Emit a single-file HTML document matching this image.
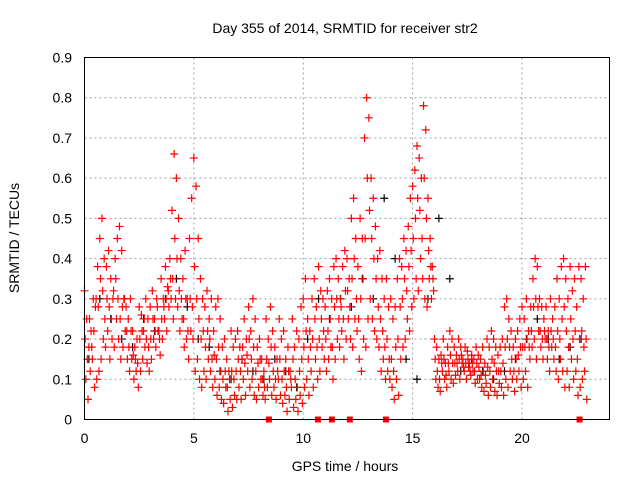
<!DOCTYPE html>
<html><head><meta charset="utf-8"><style>
body{margin:0;background:#fff;}
svg{display:block;font-family:"Liberation Sans",sans-serif;}
</style></head><body>
<svg id="chart" width="640" height="480" viewBox="0 0 640 480">
<rect x="0" y="0" width="640" height="480" fill="#fff"/>
<text x="345" y="33" text-anchor="middle" font-size="14" fill="#000">Day 355 of 2014, SRMTID for receiver str2</text>
<text x="345" y="471" text-anchor="middle" font-size="14" fill="#000">GPS time / hours</text>
<text transform="translate(19,238) rotate(-90)" text-anchor="middle" font-size="14" fill="#000">SRMTID / TECUs</text>
<g id="grid"></g>
<g id="ticks"></g>
<g id="black"></g>
<g id="red"></g>
<rect x="84.5" y="57.5" width="525" height="362" fill="none" stroke="#000" stroke-width="1"/>
</svg>
<script>
const xTicks=[0,5,10,15,20];
const yTicks=[0,0.1,0.2,0.3,0.4,0.5,0.6,0.7,0.8,0.9];
const t0=0, dt=0.1;
const redHigh=[.32,.25,.18,.22,.30,.28,.38,.45,.50,.40,.38,.42,.35,.30,.40,.45,.48,.42,.30,.28,.25,.30,.22,.18,.20,.28,.26,.22,.30,.25,.28,.32,.25,.30,.22,.35,.30,.38,.33,.40,.52,.66,.60,.50,.40,.35,.42,.30,.45,.55,.65,.58,.45,.35,.30,.28,.32,.25,.30,.22,.28,.30,.25,.18,.20,.15,.12,.22,.18,.20,.22,.18,.15,.25,.20,.28,.22,.30,.25,.18,.20,.15,.12,.25,.20,.28,.22,.18,.15,.25,.20,.22,.15,.18,.12,.25,.18,.22,.20,.28,.30,.35,.25,.22,.30,.35,.28,.38,.32,.30,.28,.32,.35,.30,.38,.40,.35,.30,.38,.42,.40,.35,.50,.55,.45,.38,.50,.45,.70,.80,.75,.60,.55,.48,.40,.42,.35,.30,.35,.28,.30,.25,.28,.35,.40,.38,.45,.42,.48,.55,.58,.62,.68,.65,.60,.78,.72,.55,.45,.38,.20,.18,.15,.16,.20,.14,.18,.22,.20,.18,.16,.20,.18,.15,.18,.17,.14,.16,.15,.18,.16,.15,.18,.14,.20,.18,.22,.20,.18,.16,.18,.20,.28,.30,.25,.22,.18,.20,.22,.25,.28,.25,.30,.22,.28,.35,.40,.38,.30,.28,.25,.28,.22,.30,.25,.28,.35,.30,.38,.40,.35,.30,.38,.32,.35,.28,.38,.35,.30,.38];
const redLow=[.10,.05,.12,.15,.08,.10,.12,.15,.20,.18,.22,.15,.20,.18,.25,.20,.15,.18,.22,.15,.12,.15,.10,.12,.08,.12,.15,.18,.14,.12,.15,.20,.18,.22,.16,.20,.25,.22,.28,.30,.25,.30,.28,.22,.25,.18,.20,.15,.22,.20,.12,.15,.10,.08,.12,.10,.15,.12,.08,.10,.06,.08,.05,.04,.08,.02,.05,.03,.06,.05,.08,.05,.10,.06,.12,.08,.10,.06,.05,.08,.10,.06,.05,.08,.10,.06,.08,.05,.10,.06,.04,.06,.02,.05,.08,.03,.05,.02,.06,.04,.08,.10,.06,.12,.08,.15,.10,.12,.18,.15,.12,.15,.18,.10,.15,.20,.18,.22,.15,.20,.25,.20,.18,.25,.22,.15,.12,.20,.18,.25,.30,.25,.22,.20,.18,.12,.15,.10,.12,.10,.08,.05,.10,.06,.15,.18,.20,.25,.22,.28,.30,.35,.32,.40,.35,.30,.28,.35,.30,.32,.10,.08,.07,.12,.10,.08,.12,.10,.09,.11,.12,.10,.14,.12,.10,.13,.11,.12,.09,.10,.10,.08,.07,.09,.06,.08,.10,.07,.06,.09,.08,.06,.10,.08,.12,.10,.07,.10,.12,.08,.10,.12,.08,.15,.18,.20,.15,.22,.18,.15,.20,.15,.12,.18,.15,.12,.10,.15,.12,.08,.12,.08,.15,.10,.12,.06,.08,.10,.12,.05];
const redMid=[.20,.15,.25,.18,.22,.30,.28,.35,.32,.25,.30,.28,.25,.32,.35,.30,.25,.28,.30,.22,.18,.22,.16,.15,.14,.20,.22,.25,.20,.18,.20,.25,.22,.28,.20,.25,.28,.30,.32,.35,.35,.45,.40,.32,.30,.25,.30,.22,.30,.28,.38,.30,.25,.20,.22,.18,.22,.20,.15,.16,.15,.18,.12,.10,.12,.08,.10,.12,.10,.12,.15,.12,.18,.14,.16,.20,.15,.18,.12,.14,.15,.10,.08,.15,.14,.18,.12,.10,.12,.15,.10,.12,.08,.12,.10,.15,.10,.08,.12,.15,.18,.22,.15,.18,.20,.25,.18,.20,.25,.22,.20,.22,.25,.18,.28,.30,.25,.28,.25,.32,.32,.28,.35,.40,.30,.25,.30,.35,.45,.60,.52,.45,.40,.35,.28,.25,.22,.18,.20,.15,.15,.12,.18,.20,.28,.30,.35,.32,.38,.42,.45,.50,.55,.52,.45,.60,.50,.42,.38,.35,.15,.12,.10,.14,.15,.11,.14,.16,.14,.14,.14,.15,.16,.13,.14,.15,.12,.14,.12,.14,.13,.11,.12,.11,.13,.12,.15,.14,.12,.12,.12,.14,.18,.20,.18,.15,.12,.15,.16,.18,.18,.18,.20,.18,.22,.28,.30,.28,.22,.20,.22,.20,.18,.22,.20,.18,.22,.20,.25,.28,.22,.18,.25,.20,.22,.15,.20,.22,.18,.20];
const blackDt=0.5;
const blackVals=[.15,.30,.25,.20,.18,.25,.22,.30,.35,.28,.20,.18,.12,.10,.15,.12,.10,.15,.12,.08,.20,.30,.25,.30,.28,.35,.30,.55,.40,.15,.10,.30,.50,.35,.12,.15,.12,.10,.12,.15,.20,.25,.20,.15,.18,.20];
const zeroHours=[8.43,10.67,11.31,12.13,13.78,22.63];

const NS="http://www.w3.org/2000/svg";
const X0=84.5,X1=609.5,Y0=419.5,Y1=57.5;
const xScale=h=>X0+h*(X1-X0)/24;
const yScale=v=>Y0-v*(Y0-Y1)/0.9;
function mk(tag,attrs,parent){const e=document.createElementNS(NS,tag);for(const k in attrs)e.setAttribute(k,attrs[k]);parent.appendChild(e);return e;}
const grid=document.getElementById('grid'),ticks=document.getElementById('ticks');
xTicks.forEach(t=>{const x=xScale(t);
 if(t>0){const g=mk('line',{x1:x,x2:x,y1:Y1,y2:Y0,stroke:'#a0a0a0','stroke-dasharray':'2,3'},grid);
 
 }
 const tl=mk('text',{x:x,y:443,'text-anchor':'middle','font-size':'14'},ticks);tl.textContent=t;
 
 
});
yTicks.forEach(t=>{const y=yScale(t);
 if(t>0){const g=mk('line',{x1:X0,x2:X1,y1:y,y2:y,stroke:'#a0a0a0','stroke-dasharray':'2,3'},grid);
 
 }
 const tl=mk('text',{x:72,y:y+5,'text-anchor':'end','font-size':'14'},ticks);tl.textContent=(t===0?'0':t.toFixed(1));
 
 
});
function plus(x,y,c,parent){const p=mk('path',{d:`M${x-4},${y}H${x+4}M${x},${y-4}V${y+4}`,stroke:c,'stroke-width':'1.2',fill:'none'},parent);
 
 }
const black=document.getElementById('black'),red=document.getElementById('red');
blackVals.forEach((v,i)=>plus(xScale(t0+i*blackDt+0.2),yScale(v),'#000',black));
[redHigh,redMid,redLow].forEach((arr,k)=>arr.forEach((v,i)=>plus(xScale(t0+i*dt+k*0.03),yScale(v),'#ff0000',red)));
zeroHours.forEach(h=>{const r=mk('rect',{x:xScale(h)-3,y:Y0-3,width:6,height:6,fill:'#ff0000'},red);
 
 });
</script>
</body></html>
